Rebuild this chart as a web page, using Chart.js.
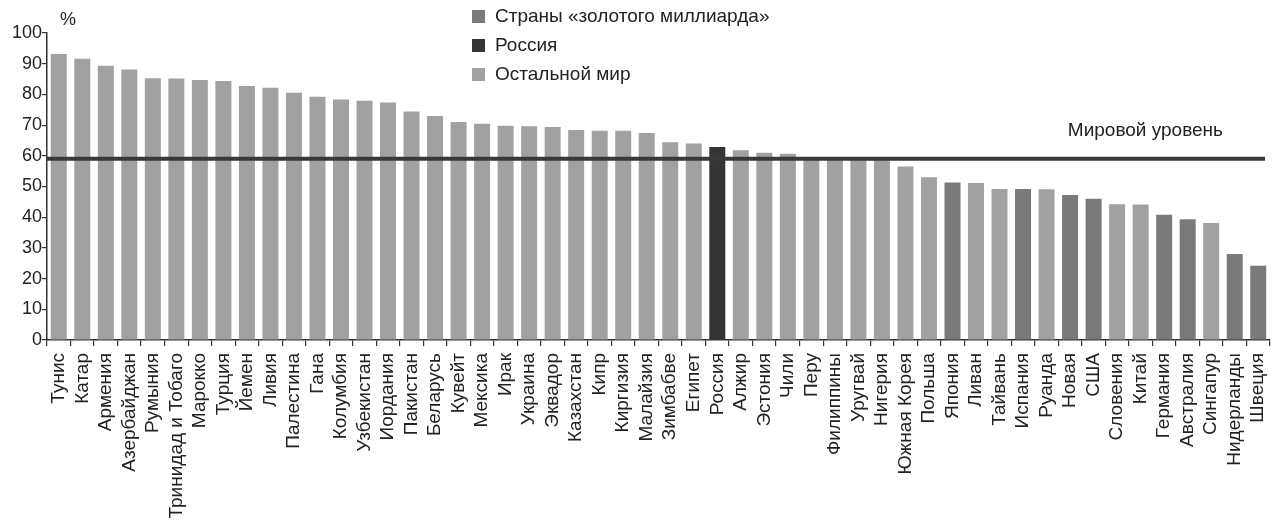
<!DOCTYPE html>
<html>
<head>
<meta charset="utf-8">
<script src="https://cdn.jsdelivr.net/npm/chart.js@4"></script>
<style>
  html, body { margin: 0; padding: 0; background: #fff; }
  #wrap { width: 1280px; height: 528px; }
</style>
</head>
<body>
<div id="wrap"><canvas id="shareChart"></canvas></div>
<script>
const countries = ['Тунис', 'Катар', 'Армения', 'Азербайджан', 'Румыния', 'Тринидад и Тобаго', 'Марокко', 'Турция',
  'Йемен', 'Ливия', 'Палестина', 'Гана', 'Колумбия', 'Узбекистан', 'Иордания', 'Пакистан', 'Беларусь', 'Кувейт',
  'Мексика', 'Ирак', 'Украина', 'Эквадор', 'Казахстан', 'Кипр', 'Киргизия', 'Малайзия', 'Зимбабве', 'Египет',
  'Россия', 'Алжир', 'Эстония', 'Чили', 'Перу', 'Филиппины', 'Уругвай', 'Нигерия', 'Южная Корея', 'Польша',
  'Япония', 'Ливан', 'Тайвань', 'Испания', 'Руанда', 'Новая', 'США', 'Словения', 'Китай', 'Германия',
  'Австралия', 'Сингапур', 'Нидерланды', 'Швеция'];

const shares = [93.2, 91.6, 89.3, 88.1, 85.3, 85.2, 84.7, 84.4,
  82.7, 82.2, 80.5, 79.2, 78.3, 77.9, 77.4, 74.4, 73.0, 71.0,
  70.4, 69.8, 69.6, 69.4, 68.4, 68.2, 68.2, 67.4, 64.4, 64.0,
  62.9, 61.8, 61.0, 60.7, 59.5, 59.3, 59.2, 59.0, 56.5, 53.0,
  51.3, 51.1, 49.2, 49.2, 49.1, 47.2, 46.0, 44.2, 44.1, 40.8,
  39.3, 38.1, 28.0, 24.2];

// 'g' = golden billion, 'r' = Russia, 'o' = rest of the world
const groups = ['o', 'o', 'o', 'o', 'o', 'o', 'o', 'o',
  'o', 'o', 'o', 'o', 'o', 'o', 'o', 'o', 'o', 'o',
  'o', 'o', 'o', 'o', 'o', 'o', 'o', 'o', 'o', 'o',
  'r', 'o', 'o', 'o', 'o', 'o', 'o', 'o', 'o', 'o',
  'g', 'o', 'o', 'g', 'o', 'g', 'g', 'o', 'o', 'g',
  'g', 'o', 'g', 'g'];

const legendKeys = ['g', 'r', 'o'];
const legendNames = ['Страны «золотого миллиарда»', 'Россия', 'Остальной мир'];
const groupColors = { g: '#7a7a7a', r: '#343434', o: '#a1a1a1' };

const worldLevel = 59;
const worldLabel = 'Мировой уровень';
const unitLabel = '%';

const FONT = 'Liberation Sans, Arial, sans-serif';

const extras = {
  id: 'extras',
  afterDatasetsDraw(chart) {
    const { ctx, chartArea, scales } = chart;
    const y = scales.y.getPixelForValue(worldLevel);
    ctx.save();
    ctx.strokeStyle = '#393939';
    ctx.lineWidth = 4;
    ctx.beginPath();
    ctx.moveTo(chartArea.left, y);
    ctx.lineTo(chartArea.right - 5, y);
    ctx.stroke();
    ctx.fillStyle = '#222';
    ctx.font = '19px ' + FONT;
    ctx.textAlign = 'right';
    ctx.textBaseline = 'middle';
    ctx.fillText(worldLabel, 1223, y - 28);
    ctx.restore();
  },
  afterDraw(chart) {
    const { ctx, chartArea } = chart;
    ctx.save();
    ctx.textBaseline = 'middle';
    ctx.fillStyle = '#222';
    ctx.textAlign = 'left';
    ctx.font = '18px ' + FONT;
    ctx.fillText(unitLabel, chartArea.left + 13, 20);
    ctx.font = '19px ' + FONT;
    legendKeys.forEach((k, i) => {
      const cy = 16 + i * 29;
      ctx.fillStyle = groupColors[k];
      ctx.fillRect(472, cy - 6, 13, 13);
      ctx.fillStyle = '#222';
      ctx.fillText(legendNames[i], 495, cy + 1);
    });
    ctx.restore();
  }
};

new Chart(document.getElementById('shareChart'), {
  type: 'bar',
  data: {
    labels: countries,
    datasets: [{
      data: shares,
      backgroundColor: groups.map(g => groupColors[g]),
      borderWidth: 0,
      barPercentage: 0.68,
      categoryPercentage: 1
    }]
  },
  options: {
    responsive: true,
    maintainAspectRatio: false,
    animation: false,
    layout: { padding: { top: 33, right: 10, left: 0, bottom: 0 } },
    plugins: { legend: { display: false }, tooltip: { enabled: false } },
    scales: {
      x: {
        afterFit(scale) {
          scale.height = 188;
          scale.paddingLeft = 0;
          scale.paddingRight = 0;
        },
        border: { display: true, color: '#333', width: 1.5 },
        grid: { display: true, drawOnChartArea: false, drawTicks: true, tickLength: 6, color: '#333', lineWidth: 1.2 },
        ticks: {
          autoSkip: false, minRotation: 90, maxRotation: 90, padding: 7,
          color: '#222', font: { family: FONT, size: 19 }
        }
      },
      y: {
        min: 0, max: 100,
        afterFit(scale) { scale.width = 47; },
        border: { display: true, color: '#333', width: 1.5 },
        grid: { display: true, drawOnChartArea: false, drawTicks: true, tickLength: 5, color: '#333', lineWidth: 1.2 },
        ticks: { stepSize: 10, padding: 0, color: '#222', font: { family: FONT, size: 18 } }
      }
    }
  },
  plugins: [extras]
});
</script>
</body>
</html>
